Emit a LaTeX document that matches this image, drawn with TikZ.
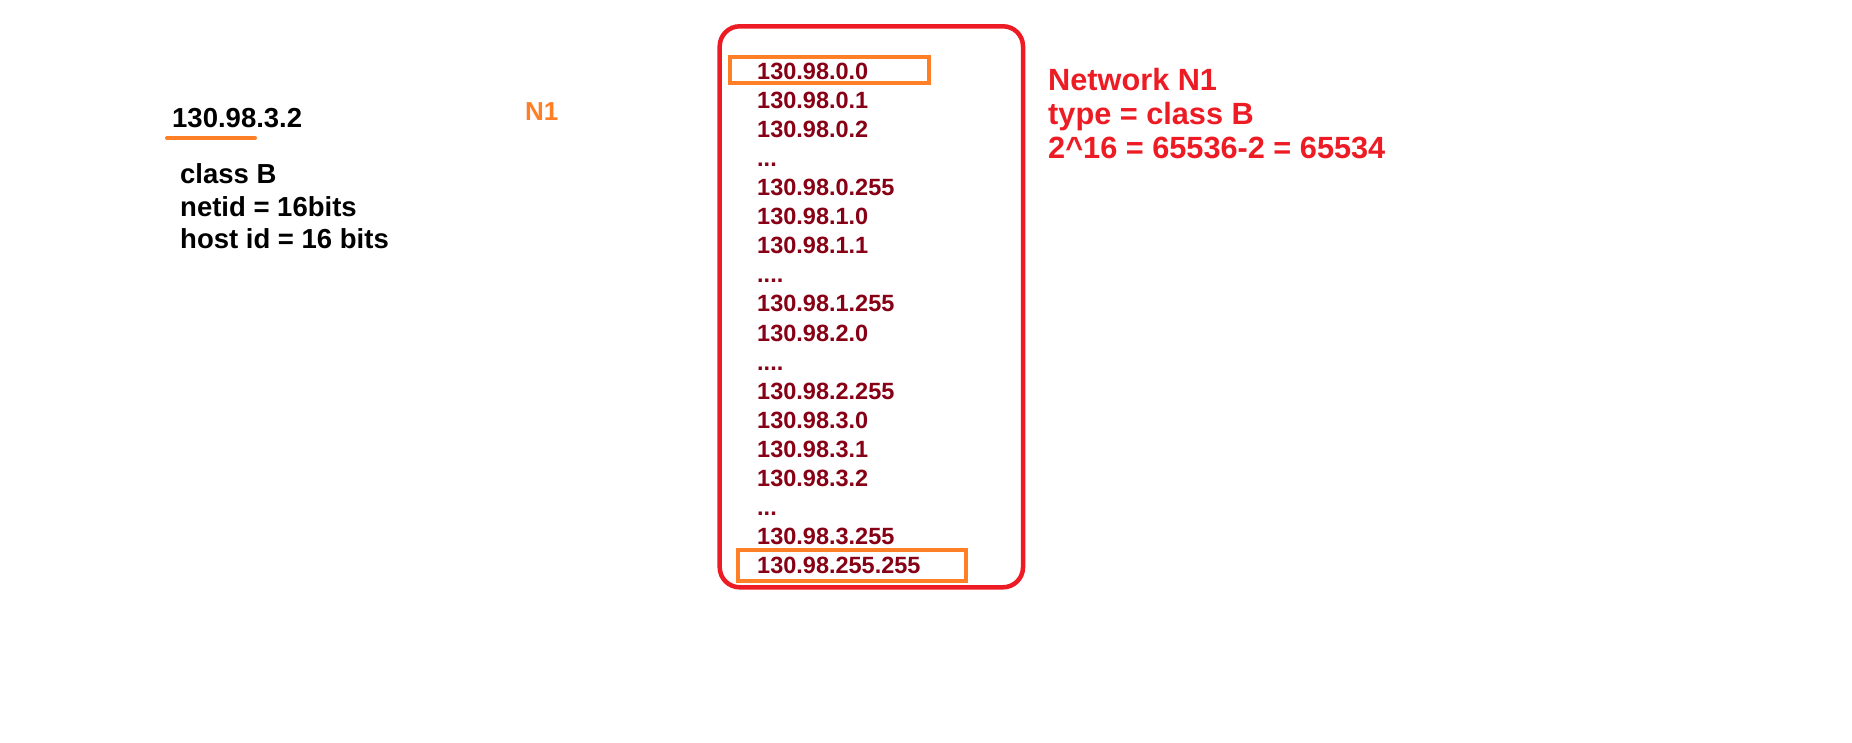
\documentclass[tikz,border=0pt]{standalone}
\usepackage{fontspec}
\setmainfont{Liberation Sans}
\definecolor{pdred}{RGB}{136,0,21}
\definecolor{pred}{RGB}{237,28,36}
\definecolor{porange}{RGB}{255,127,39}
\newcommand\mydthree{...}
\newcommand\mydfour{....}
\begin{document}
\begin{tikzpicture}[x=1pt,y=-1pt,
  txt/.style={inner sep=0pt,anchor=base west,font=\bfseries},
  lefttxt/.style={txt,font=\fontsize{27.5}{32}\selectfont\bfseries},
  listtxt/.style={txt,text=pdred,font=\fontsize{23.5}{29}\selectfont\bfseries},
  nettxt/.style={txt,text=pred,font=\fontsize{30.7}{33}\selectfont\bfseries},
  obox/.style={draw=porange,line width=4pt},
  rbox/.style={draw=pred,line width=4.5pt,rounded corners=20pt}]
\useasboundingbox[fill=white] (0,0) rectangle (1852,743);
% left
\node[lefttxt] (ip) at (172,128) {130.98.3.2};
\draw[draw=porange,line width=4pt,line cap=round] (167,138) -- (255,138);
\node[lefttxt] (cls) at (180,184) {class B};
\node[lefttxt] (net) at (180,216.5) {netid = 16bits};
\node[lefttxt] (host) at (180,248.5) {host id = 16 bits};
\node[txt,text=porange,font=\fontsize{26}{30}\selectfont\bfseries] (n1) at (525,121) {N1};
% list box
\draw[rbox] (719.7,26.3) rectangle (1023,587.3);
\foreach \t [count=\i from 0] in {130.98.0.0,130.98.0.1,130.98.0.2,\mydthree,130.98.0.255,130.98.1.0,130.98.1.1,\mydfour,130.98.1.255,130.98.2.0,\mydfour,130.98.2.255,130.98.3.0,130.98.3.1,130.98.3.2,\mydthree,130.98.3.255,130.98.255.255}
  \node[listtxt] (l\i) at (757,{80+29*\i}) {\t};
\draw[obox] (729.5,57) rectangle (928.7,82.8);
\draw[obox] (738.3,550.3) rectangle (965.5,580.5);
% right
\node[nettxt] (r1) at (1048,91) {Network N1};
\node[nettxt] (r2) at (1048,125) {type = class B};
\node[nettxt] (r3) at (1048,159) {2\^{}16 = 65536-2 = 65534};
\end{tikzpicture}
\end{document}
